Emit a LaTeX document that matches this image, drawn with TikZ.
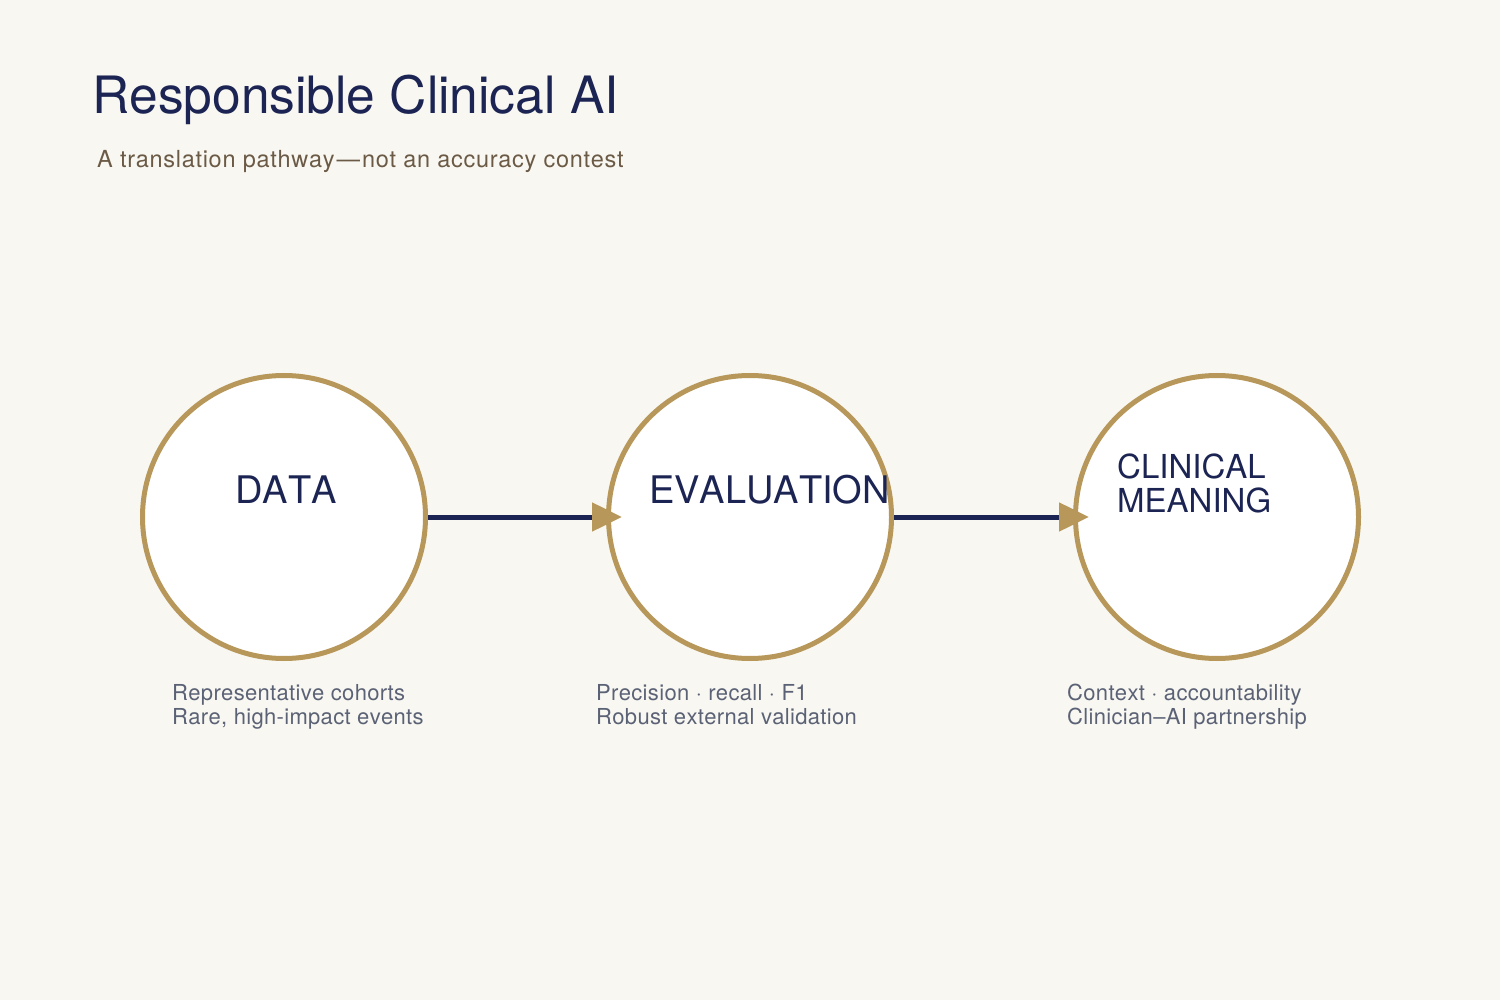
\documentclass[tikz,border=0pt]{standalone}
\usepackage{fontspec}
\setmainfont[Kerning=Off]{TeX Gyre Heros}
\newfontfamily\subfont[Kerning=Off,LetterSpace=3]{TeX Gyre Heros}
\newfontfamily\capfont[Kerning=Off,LetterSpace=1.5]{TeX Gyre Heros}
\usetikzlibrary{arrows.meta}
\definecolor{bg}{HTML}{F8F7F2}
\definecolor{navy}{HTML}{1B2452}
\definecolor{gold}{HTML}{B8985A}
\definecolor{subbrown}{HTML}{6B5A45}
\definecolor{labgray}{HTML}{5B6275}
\tikzset{
  stage/.style={circle, draw=gold, line width=5pt, fill=white, minimum size=283pt, inner sep=0pt},
  stagetext/.style={text=navy, inner sep=0pt, font=\fontsize{38}{38}\selectfont},
  caption/.style={text=labgray, inner sep=0pt, anchor=base west, font=\capfont\fontsize{22}{24}\selectfont},
  flow/.style={draw=navy, line width=5pt, shorten >=-16pt,
    -{Triangle[length=30pt,width=28pt,color=gold]}}
}
\begin{document}
\begin{tikzpicture}[x=1pt,y=-1pt]
\fill[bg] (0,0) rectangle (1500,1000);
\useasboundingbox (0,0) rectangle (1500,1000);
\node[anchor=base west, inner sep=0pt, text=navy, font=\fontsize{51.5}{60}\selectfont] (title) at (92,114) {Responsible Clinical AI};
\node[anchor=base west, inner sep=0pt, text=subbrown, font=\subfont\fontsize{23.5}{26}\selectfont] (subtitle) at (97,168) {A translation pathway\kern2pt—\kern2pt not an accuracy contest};

\node[stage] (c1) at (284,517) {};
\node[stage] (c2) at (750,517) {};
\node[stage] (c3) at (1217,517) {};

\node[stagetext, anchor=base] (t1) at (286,503) {DATA};
\node[stagetext, anchor=base west] (t2) at (649,503) {EVALUATION};
\node[stagetext, anchor=base west, font=\fontsize{33}{34}\selectfont] (t3a) at (1117,478) {CLINICAL};
\node[stagetext, anchor=base west, font=\fontsize{33}{34}\selectfont] (t3b) at (1117,512) {MEANING};

\draw[flow] (c1) -- (c2);
\draw[flow] (c2) -- (c3);

\node[caption] (l1a) at (172,700) {Representative cohorts};
\node[caption] (l1b) at (172,724) {Rare, high-impact events};
\node[caption] (l2a) at (596,700) {Precision · recall · F1};
\node[caption] (l2b) at (596,724) {Robust external validation};
\node[caption] (l3a) at (1067,700) {Context · accountability};
\node[caption] (l3b) at (1067,724) {Clinician–AI partnership};
\end{tikzpicture}
\end{document}
